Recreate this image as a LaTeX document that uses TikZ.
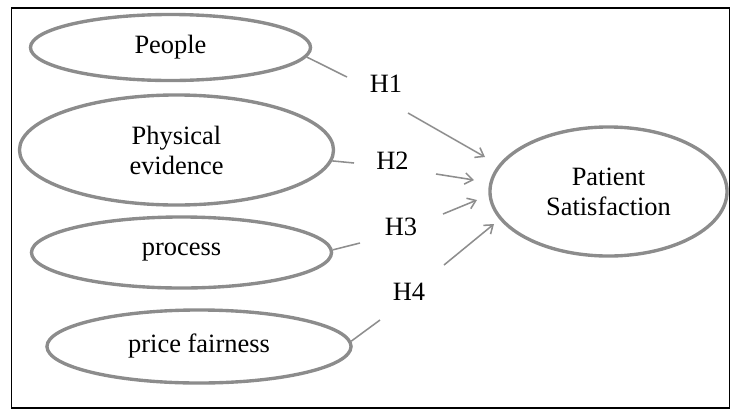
\documentclass[tikz,border=0pt]{standalone}
\usepackage{fontspec}
\setmainfont{Liberation Serif}
\usepackage{tikz}
\usetikzlibrary{arrows.meta, shapes.geometric}
\definecolor{rimgray}{HTML}{8C8C8C}
\definecolor{linkgray}{HTML}{8E8E8E}

\begin{document}
\begin{tikzpicture}[x=0.025cm, y=-0.025cm, >={Straight Barb[length=5.5pt,width=8pt]},
    factor/.style={ellipse, draw=rimgray, line width=2.4pt, inner sep=0pt, align=center, font=\fontsize{18.8}{21.3}\selectfont},
    hyp/.style={inner sep=0pt, font=\fontsize{18.8}{21.3}\selectfont},
    link/.style={draw=linkgray, line width=1.1pt}]
    \useasboundingbox (0,0) rectangle (731,409);
    \draw[line width=1.4pt] (11.5,8) rectangle (729.5,408);

    \node[factor, minimum width=7cm, minimum height=1.65cm] (people) at (170.5,47.5) {People};
    \node[factor, minimum width=7.85cm, minimum height=2.75cm] (phys) at (176.5,150) {Physical\\evidence};
    \node[factor, minimum width=7.5cm, minimum height=1.775cm] (proc) at (181.5,252.5) {process};
    \node[factor, minimum width=7.6cm, minimum height=1.825cm] (price) at (199,346.5) {price fairness};
    \node[factor, minimum width=5.925cm, minimum height=3.225cm] (ps) at (608.5,191.5) {Patient\\Satisfaction};

    \node[hyp] (h1) at (386,84) {H1};
    \node[hyp] (h2) at (392.5,161) {H2};
    \node[hyp] (h3) at (401,227) {H3};
    \node[hyp] (h4) at (409,292) {H4};

    % loose ends of the links
    \coordinate (e1) at (347,77);
    \coordinate (e2) at (354,163);
    \coordinate (e3) at (360,243);
    \coordinate (e4) at (380,320);
    \coordinate (s1) at (408,113);
    \coordinate (t1) at (485,157);
    \coordinate (s2) at (436,174);
    \coordinate (t2) at (474,180);
    \coordinate (s3) at (443,214);
    \coordinate (t3) at (477,200);
    \coordinate (s4) at (444,265);
    \coordinate (t4) at (494,224);

    \draw[link] (people.-4) -- (e1);
    \draw[link] (phys.-4) -- (e2);
    \draw[link] (proc.1) -- (e3);
    \draw[link] (price.2) -- (e4);
    \draw[link, ->] (s1) -- (t1);
    \draw[link, ->] (s2) -- (t2);
    \draw[link, ->] (s3) -- (t3);
    \draw[link, ->] (s4) -- (t4);
\end{tikzpicture}
\end{document}
